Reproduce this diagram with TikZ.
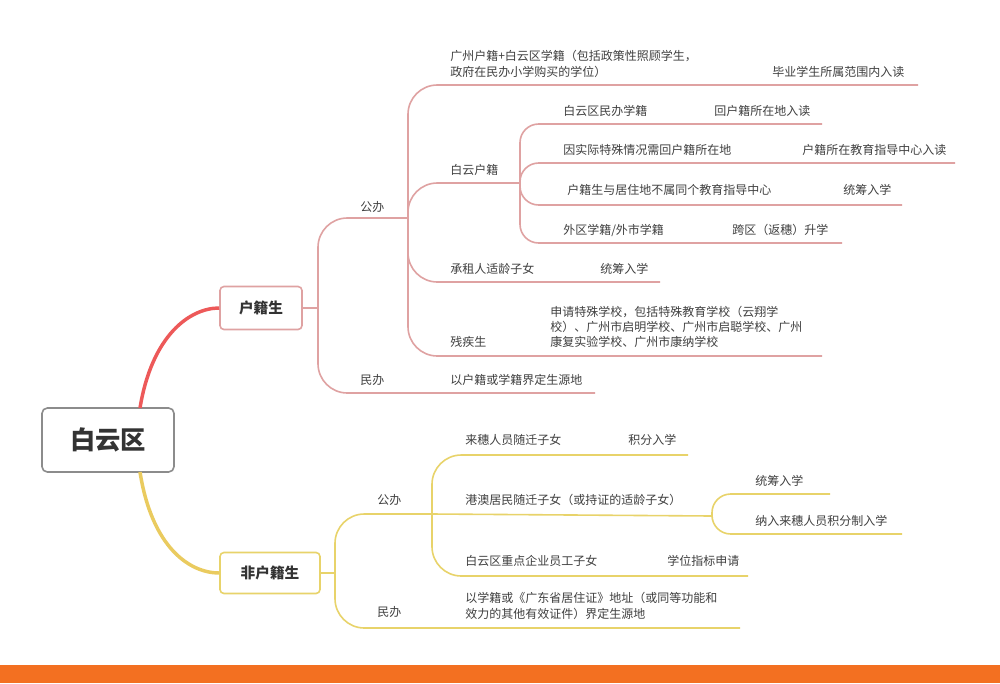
\documentclass[tikz,border=0pt]{standalone}
\usepackage{fontspec}
\setmainfont{Noto Sans CJK SC}
\begin{document}
\begin{tikzpicture}[x=0.75pt,y=-0.75pt,
  t/.style={anchor=west,inner sep=0pt,font=\fontsize{9}{11.5}\selectfont,text=black!75,align=left},
  pk/.style={draw=pinkl,line width=1.2pt,rounded corners=22},
  yl/.style={draw=yell,line width=1.2pt,rounded corners=22}]
\definecolor{pinkl}{HTML}{DFA2A2}
\definecolor{yell}{HTML}{E8D36A}
\definecolor{orng}{HTML}{F37021}
\useasboundingbox (0,0) rectangle (1000,683);
\fill[white] (0,0) rectangle (1000,683);
\fill[orng] (0,665) rectangle (1000,683);
% main nodes
\node[draw=black!45,line width=1.2pt,rounded corners=4pt,minimum width=132*0.75pt,minimum height=64*0.75pt,font=\bfseries\fontsize{19}{22}\selectfont,text=black!80] (root) at (108,440) {白云区};
\node[draw=pinkl,line width=1.2pt,rounded corners=3pt,minimum width=82*0.75pt,minimum height=43*0.75pt,font=\bfseries\fontsize{11}{13}\selectfont,text=black!80] (hj) at (261,308) {户籍生};
\node[draw=yell,line width=1.2pt,rounded corners=3pt,minimum width=100*0.75pt,minimum height=41*0.75pt,font=\bfseries\fontsize{11}{13}\selectfont,text=black!80] (fhj) at (270,573) {非户籍生};
\coordinate (r1) at (140,408); \coordinate (r2) at (140,472);
\draw[draw=red!45!pinkl,line width=2.6pt] (r1) .. controls (152,335) and (190,308) .. (hj.west);
\draw[draw=yell!90!orange,line width=2.6pt] (r2) .. controls (152,548) and (190,573) .. (fhj.west);
% 户籍生 branch
\coordinate (J1) at (318,308);
\draw[pk] (hj.east) -- (J1);
\coordinate (gbE) at (408,218); \coordinate (mbE) at (595,393);
\draw[pk] (J1) |- (gbE);
\draw[pk] (J1) |- (mbE);
\node[t] (gb) at (360,207) {公办};
\node[t] (mb) at (360,380) {民办};
\node[t] (mbt) at (450,380) {以户籍或学籍界定生源地};
\coordinate (a1) at (918,85); \coordinate (a2) at (520,183); \coordinate (a3) at (660,282); \coordinate (a4) at (822,356);
\draw[pk] (gbE) |- (a1);
\draw[pk] (gbE) |- (a2);
\draw[pk] (gbE) |- (a3);
\draw[pk] (gbE) |- (a4);
\node[t] (gz) at (450,64) {广州户籍+白云区学籍（包括政策性照顾学生，\\政府在民办小学购买的学位）};
\node[t] (gzr) at (772,72) {毕业学生所属范围内入读};
\node[t] (by) at (450,170) {白云户籍};
\node[t] (cz) at (450,269) {承租人适龄子女};
\node[t] (czr) at (600,269) {统筹入学};
\node[t] (cj) at (450,342) {残疾生};
\node[t] (cjr) at (550,327) {申请特殊学校，包括特殊教育学校（云翔学\\校）、广州市启明学校、广州市启聪学校、广州\\康复实验学校、广州市康纳学校};
\coordinate (b1) at (822,124); \coordinate (b2) at (955,163); \coordinate (b3) at (902,205); \coordinate (b4) at (842,243);
\draw[pk,rounded corners=14] (a2) |- (b1);
\draw[pk,rounded corners=14] (a2) |- (b2);
\draw[pk,rounded corners=14] (a2) |- (b3);
\draw[pk,rounded corners=14] (a2) |- (b4);
\node[t] (c1) at (563,111) {白云区民办学籍};
\node[t] (c1r) at (714,111) {回户籍所在地入读};
\node[t] (c2) at (563,150) {因实际特殊情况需回户籍所在地};
\node[t] (c2r) at (802,150) {户籍所在教育指导中心入读};
\node[t] (c3) at (567,190) {户籍生与居住地不属同个教育指导中心};
\node[t] (c3r) at (843,190) {统筹入学};
\node[t] (c4) at (563,230) {外区学籍/外市学籍};
\node[t] (c4r) at (732,230) {跨区（返穗）升学};
% 非户籍生 branch
\coordinate (J4) at (335,573);
\draw[yl] (fhj.east) -- (J4);
\coordinate (gb2E) at (432,514); \coordinate (mb2E) at (740,628);
\draw[yl] (J4) |- (gb2E);
\draw[yl] (J4) |- (mb2E);
\node[t] (gb2) at (377,500) {公办};
\node[t] (mb2) at (377,612) {民办};
\node[t] (mb2t) at (465,606) {以学籍或《广东省居住证》地址（或同等功能和\\效力的其他有效证件）界定生源地};
\coordinate (d1) at (688,455); \coordinate (d2) at (712,516); \coordinate (d3) at (748,576);
\draw[yl] (gb2E) |- (d1);
\draw[yl] (gb2E) -- (d2);
\draw[yl] (gb2E) |- (d3);
\node[t] (e1) at (465,440) {来穗人员随迁子女};
\node[t] (e1r) at (628,440) {积分入学};
\node[t] (e2) at (465,500) {港澳居民随迁子女（或持证的适龄子女）};
\node[t] (e3) at (465,561) {白云区重点企业员工子女};
\node[t] (e3r) at (667,561) {学位指标申请};
\coordinate (f1) at (830,494); \coordinate (f2) at (902,534);
\draw[yl,rounded corners=14] (d2) |- (f1);
\draw[yl,rounded corners=14] (d2) |- (f2);
\node[t] (g1) at (755,481) {统筹入学};
\node[t] (g2) at (755,521) {纳入来穗人员积分制入学};
\end{tikzpicture}
\end{document}
